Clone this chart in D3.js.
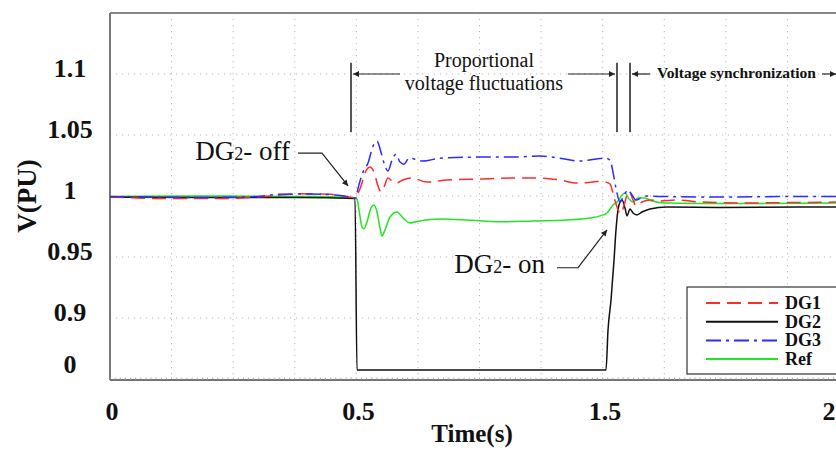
<!DOCTYPE html>
<html><head><meta charset="utf-8">
<script src="https://cdn.jsdelivr.net/npm/d3@7"></script>
<style>
html,body{margin:0;padding:0;background:#fff;}
svg{display:block;font-family:"Liberation Serif","Times New Roman",serif;}
</style></head><body>
<svg id="chart" width="836" height="450"></svg>
<script>
// ---- data: [time (s), voltage (pu)] ----
const seriesNames = ["DG1", "DG2", "DG3", "Ref"];
const xTickValues = [0, 0.5, 1.5, 2];
const xTickLabels = ["0", "0.5", "1.5", "2"];
const yTickValues = [0, 0.9, 0.95, 1, 1.05, 1.1];
const yTickLabels = ["0", "0.9", "0.95", "1", "1.05", "1.1"];
const yGridValues = [0.9, 0.95, 1, 1.05, 1.1];

const dg1 = [
  [0, 0.9992], [0.1014, 0.998], [0.2434, 0.998], [0.3144, 0.9996], [0.3854, 1.0018],
  [0.4463, 1.0014], [0.4828, 0.9992], [0.499, 0.9984],
  [0.502, 1.0], [0.5183, 1.0082], [0.5345, 1.0188], [0.5548, 1.0237], [0.571, 1.0196],
  [0.5872, 1.0082], [0.5994, 1.0033], [0.6116, 1.0074], [0.6278, 1.0147], [0.644, 1.0123],
  [0.6602, 1.0106], [0.6886, 1.0131], [0.7252, 1.0147], [0.786, 1.0114], [0.8671, 1.0131],
  [1.001, 1.0139], [1.1349, 1.0147], [1.2444, 1.0147], [1.3256, 1.0131], [1.3945, 1.0106],
  [1.4594, 1.0114], [1.4919, 1.0123],
  [1.5067, 1.0114], [1.5156, 1.0098], [1.5246, 0.9992], [1.5335, 0.9886], [1.5402, 0.9853],
  [1.5469, 0.9926], [1.558, 1.0041], [1.567, 0.9967], [1.5737, 0.9918], [1.5871, 0.9951],
  [1.6049, 0.9967], [1.6272, 0.9959], [1.6652, 0.9967], [1.7165, 0.9951], [1.8058, 0.9943],
  [1.9397, 0.9947], [2.0513, 0.9951]
];
const dg2 = [
  [0, 0.9992], [0.1826, 0.9988], [0.3854, 0.9988], [0.497, 0.998],
  [0.502, 0], [1.0, 0], [1.5067, 0],
  [1.5112, 0.692], [1.5179, 0.9148], [1.5246, 0.9474], [1.529, 0.9722], [1.5335, 0.9886],
  [1.5379, 0.9951], [1.5424, 0.9967], [1.5491, 0.9902], [1.5536, 0.9837], [1.5603, 0.9894],
  [1.567, 0.9861], [1.5759, 0.9845], [1.5871, 0.9869], [1.6049, 0.9894], [1.6429, 0.991],
  [1.7612, 0.9906], [1.9397, 0.991], [2.0513, 0.991]
];
const dg3 = [
  [0, 0.9996], [0.1826, 0.9988], [0.284, 0.9992], [0.3448, 1.0014], [0.4057, 1.0016],
  [0.4564, 1.0008], [0.4868, 0.9992], [0.499, 0.9984],
  [0.502, 1.0025], [0.5264, 1.0196], [0.5467, 1.027], [0.5669, 1.0408], [0.5832, 1.0449],
  [0.5994, 1.0359], [0.6156, 1.0245], [0.6278, 1.0204], [0.644, 1.0294], [0.6602, 1.0343],
  [0.6765, 1.0278], [0.6927, 1.0261], [0.713, 1.031], [0.7698, 1.0286], [0.8387, 1.031],
  [1.001, 1.0319], [1.1349, 1.0319], [1.2444, 1.0327], [1.3256, 1.031], [1.4067, 1.0286],
  [1.4675, 1.0302],
  [1.5045, 1.031], [1.5156, 1.0294], [1.5223, 1.0196], [1.529, 1.0065], [1.5379, 0.9951],
  [1.5469, 1.0008], [1.5558, 1.0049], [1.5647, 1.0008], [1.5737, 0.9967], [1.5848, 0.9984],
  [1.5982, 1.0], [1.6272, 0.9996], [1.7612, 0.9992], [1.9397, 0.9996], [2.0513, 0.9996]
];
const ref = [
  [0, 0.9996], [0.1826, 1.0], [0.3854, 0.9996], [0.4665, 0.9992], [0.497, 0.9984],
  [0.502, 0.9975], [0.5101, 0.9886], [0.5223, 0.9747], [0.5304, 0.9731], [0.5426, 0.9788],
  [0.5588, 0.9902], [0.571, 0.9926], [0.5832, 0.9869], [0.5953, 0.9739], [0.6034, 0.9673],
  [0.6156, 0.9722], [0.6359, 0.9828], [0.6643, 0.9869], [0.6886, 0.982], [0.717, 0.9779],
  [0.7576, 0.9796], [0.8387, 0.9812], [0.9483, 0.9804], [1.0822, 0.9788], [1.2161, 0.9796],
  [1.354, 0.9804], [1.4473, 0.982], [1.4878, 0.9837],
  [1.5089, 0.9861], [1.5223, 0.9926], [1.5335, 0.9959], [1.5424, 1.0008], [1.5491, 1.0025],
  [1.558, 0.9975], [1.567, 0.9951], [1.5781, 0.9984], [1.5938, 0.9984], [1.6094, 0.9959],
  [1.6384, 0.9943], [1.7165, 0.9939], [1.8504, 0.9939], [2.0513, 0.9943]
];

// ---- layout ----
const svg = d3.select("#chart");
const plotLeft = 110, plotTop = 13, plotBottom = 380, plotRight = 849;

// piecewise time axis and compressed lower voltage range
const x = d3.scaleLinear().domain([0, 0.5, 1.5, 2]).range([110, 356.5, 603, 827]);
const y = d3.scaleLinear().domain([0, 0.9, 1.15]).range([370, 318, 13]);
// evenly spaced background grid
const grid = d3.scaleLinear().domain([0, 12]).range([plotLeft, plotRight]);

const defs = svg.append("defs");
defs.append("clipPath").attr("id", "plot")
  .append("rect").attr("x", plotLeft).attr("y", plotTop)
  .attr("width", plotRight - plotLeft).attr("height", plotBottom - plotTop);

const marker = defs.append("marker")
  .attr("id", "arrow").attr("viewBox", "0 0 10 10").attr("refX", 10).attr("refY", 5)
  .attr("markerWidth", 9).attr("markerHeight", 6).attr("markerUnits", "userSpaceOnUse")
  .attr("orient", "auto");
marker.append("path").attr("d", "M0,0 L10,5 L0,10 z").attr("fill", "#222");

// grid
const gGrid = svg.append("g").attr("stroke", "#b8b8b8").attr("stroke-width", 1).attr("stroke-dasharray", "1.2,4.8");
gGrid.selectAll("line.v").data(d3.range(1, 12)).join("line").attr("class", "v")
  .attr("x1", d => grid(d)).attr("x2", d => grid(d)).attr("y1", plotTop).attr("y2", plotBottom);
gGrid.selectAll("line.h").data(yGridValues).join("line").attr("class", "h")
  .attr("x1", plotLeft).attr("x2", plotRight).attr("y1", d => y(d)).attr("y2", d => y(d));

// frame
svg.append("line").attr("x1", plotLeft).attr("x2", plotRight).attr("y1", plotTop).attr("y2", plotTop)
  .attr("stroke", "#888").attr("stroke-width", 2);
svg.append("line").attr("x1", plotLeft).attr("x2", plotLeft).attr("y1", plotTop).attr("y2", plotBottom)
  .attr("stroke", "#777").attr("stroke-width", 2);
svg.append("line").attr("x1", plotLeft).attr("x2", plotRight).attr("y1", plotBottom).attr("y2", plotBottom)
  .attr("stroke", "#444").attr("stroke-width", 1.5);
// minor ticks along the time axis
svg.append("g").selectAll("line").data(d3.range(0, 145)).join("line")
  .attr("x1", d => plotLeft + d * (plotRight - plotLeft) / 144)
  .attr("x2", d => plotLeft + d * (plotRight - plotLeft) / 144)
  .attr("y1", plotBottom - 2.5).attr("y2", plotBottom).attr("stroke", "#999").attr("stroke-width", 0.8);

// tick labels
svg.append("g").selectAll("text").data(xTickValues).join("text")
  .attr("x", d => x(d) + 2).attr("y", 420).attr("text-anchor", "middle")
  .attr("font-size", 26).attr("font-weight", "bold").attr("fill", "#111")
  .text((d, i) => xTickLabels[i]);
svg.append("g").selectAll("text").data(yTickValues).join("text")
  .attr("x", 70).attr("y", d => y(d) + 3).attr("text-anchor", "middle")
  .attr("font-size", 26).attr("font-weight", "bold").attr("fill", "#111")
  .text((d, i) => yTickLabels[i]);

// axis titles
svg.append("text").attr("x", 472).attr("y", 442).attr("text-anchor", "middle")
  .attr("font-size", 25).attr("font-weight", "bold").attr("fill", "#111").text("Time(s)");
svg.append("text").attr("transform", "translate(36,196) rotate(-90)").attr("text-anchor", "middle")
  .attr("font-size", 27).attr("font-weight", "bold").attr("fill", "#111").text("V(PU)");

// series
const styles = {
  DG1: { data: dg1, color: "#ff2a2a", dash: "14,7" },
  DG2: { data: dg2, color: "#111111", dash: null },
  DG3: { data: dg3, color: "#2b2bff", dash: "15,5,3,5" },
  Ref: { data: ref, color: "#22e622", dash: null }
};
const line = d3.line().x(d => x(d[0])).y(d => y(d[1])).curve(d3.curveMonotoneX);
const gLines = svg.append("g").attr("clip-path", "url(#plot)");
["Ref", "DG2", "DG1", "DG3"].forEach(name => {
  const s = styles[name];
  gLines.append("path").datum(s.data).attr("d", line)
    .attr("fill", "none").attr("stroke", s.color).attr("stroke-width", 1.5)
    .attr("stroke-dasharray", s.dash);
});

// annotations
const ann = svg.append("g").attr("fill", "#111");
const pathGen = d3.line().x(d => x(d[0])).y(d => y(d[1]));

function labelDG(tx, vy, suffix) {
  const t = ann.append("text").attr("x", x(tx)).attr("y", y(vy)).attr("text-anchor", "end").attr("font-size", 27);
  t.append("tspan").text("DG");
  t.append("tspan").attr("font-size", 18).text("2");
  t.append("tspan").text(suffix);
}
labelDG(0.3651, 1.0294, "- off");
labelDG(1.2647, 0.9371, "- on");
ann.append("path").attr("d", pathGen([[0.3813, 1.0351], [0.43, 1.0351], [0.4828, 1.0082]]))
  .attr("fill", "none").attr("stroke", "#222").attr("stroke-width", 1.2).attr("marker-end", "url(#arrow)");
ann.append("path").attr("d", pathGen([[1.3134, 0.9412], [1.3986, 0.9412], [1.5089, 0.9722]]))
  .attr("fill", "none").attr("stroke", "#222").attr("stroke-width", 1.2).attr("marker-end", "url(#arrow)");

// interval brackets
[0.4888, 1.5313, 1.5603].forEach(t => {
  ann.append("line").attr("x1", x(t)).attr("x2", x(t)).attr("y1", y(1.1092)).attr("y2", y(1.0523))
    .attr("stroke", "#555").attr("stroke-width", 2);
});
[[0.6765, 0.4929], [1.358, 1.5268], [1.6049, 1.5647], [1.9888, 2.0201]].forEach(([a, b]) => {
  ann.append("line").attr("x1", x(a)).attr("x2", x(b)).attr("y1", y(1.1)).attr("y2", y(1.1))
    .attr("stroke", "#222").attr("stroke-width", 1.2).attr("marker-end", "url(#arrow)");
});
ann.append("text").attr("x", x(1.0172)).attr("y", y(1.1054)).attr("text-anchor", "middle")
  .attr("font-size", 20).text("Proportional");
ann.append("text").attr("x", x(1.0172)).attr("y", y(1.0866)).attr("text-anchor", "middle")
  .attr("font-size", 20).text("voltage fluctuations");
ann.append("text").attr("x", x(1.6205)).attr("y", y(1.0964)).attr("text-anchor", "start")
  .attr("font-size", 15.5).attr("font-weight", "bold").text("Voltage synchronization");

// legend
const lg = svg.append("g").attr("transform", "translate(687,287)");
lg.append("rect").attr("width", 170).attr("height", 87).attr("fill", "#fff")
  .attr("stroke", "#333").attr("stroke-width", 1.2);
seriesNames.forEach((name, i) => {
  const s = styles[name];
  const ly = 16 + i * 18.7;
  lg.append("line").attr("x1", 19).attr("x2", 91).attr("y1", ly).attr("y2", ly)
    .attr("stroke", s.color).attr("stroke-width", 2).attr("stroke-dasharray", s.dash);
  lg.append("text").attr("x", 98).attr("y", ly + 6).attr("font-size", 18).attr("font-weight", "bold")
    .attr("fill", "#111").text(name);
});
</script>
</body></html>
